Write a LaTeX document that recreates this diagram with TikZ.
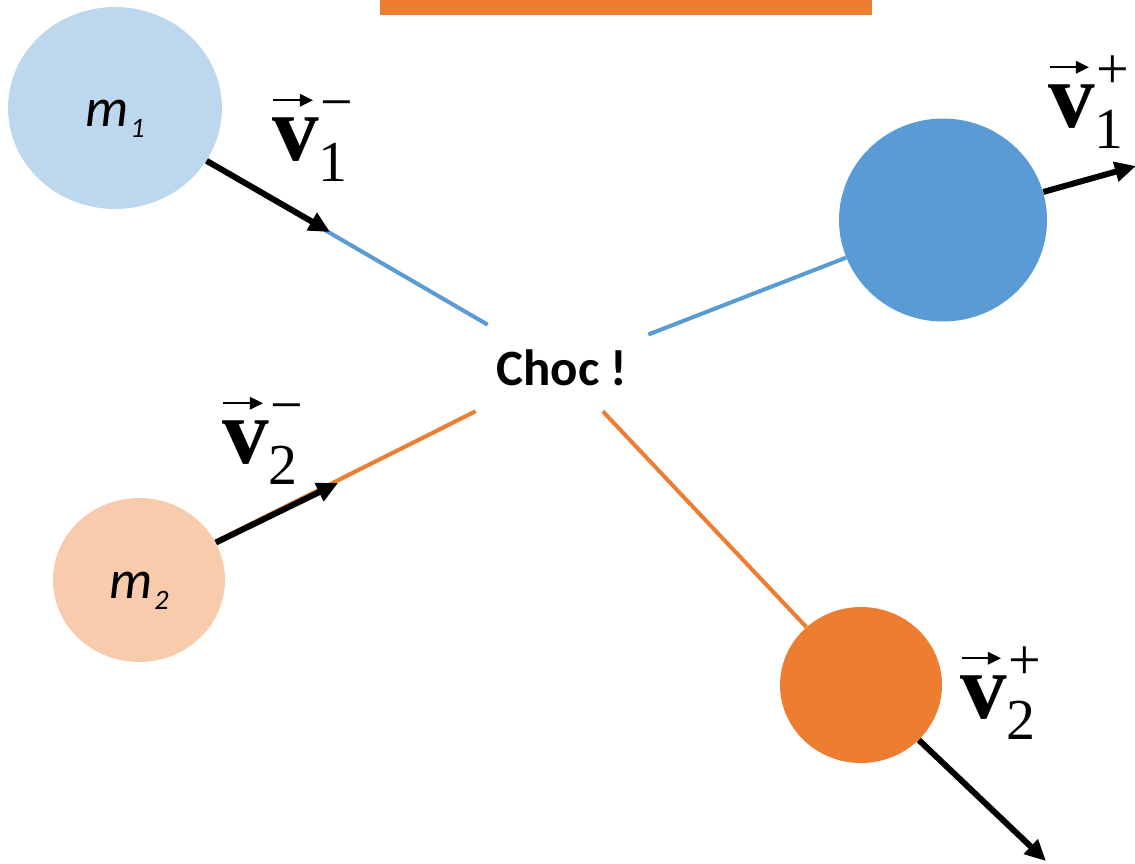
\documentclass[tikz,border=0pt]{standalone}
\usepackage{fontspec}
\setmainfont{Liberation Serif}
\newfontfamily\calibri[Numbers=Lining]{Carlito}
\usetikzlibrary{arrows.meta, positioning, shapes.geometric}
\definecolor{paleblue}{HTML}{BDD7EE}
\definecolor{ballblue}{HTML}{5B9BD5}
\definecolor{paleorange}{HTML}{F8CBAD}
\definecolor{ballorange}{HTML}{ED7D31}
% vector label: bold v with arrow, subscript and superscript
\newcommand{\vlab}[2]{%
  \rlap{\raisebox{34pt}{\tikz[baseline=0pt]\draw[line width=1.3pt,
    -{Triangle[length=7.5pt, width=7pt]}] (0.5pt,0pt) -- (23pt,0pt);}}%
  {\fontsize{53}{53}\selectfont\bfseries v}%
  \rlap{\raisebox{-12.5pt}{\fontsize{33}{33}\selectfont #1}}%
  \kern1pt\raisebox{21.8pt}{\fontsize{33}{33}\selectfont #2}}
% mass label inside a ball
\newcommand{\mlab}[1]{\raisebox{-10.6pt}[0pt][0pt]{\calibri\itshape
  \fontsize{31}{31}\selectfont m\kern1pt\raisebox{-6.2pt}{\fontsize{16}{16}\selectfont #1}}}
\tikzset{
  ball/.style={ellipse, fill=#1, draw=none, inner sep=0pt},
  track/.style={draw=#1, line width=2.3pt},
  vec/.style={draw=black, line width=3.4pt, -{Triangle[length=12pt, width=11pt]}},
  vlbl/.style={anchor=base west, inner sep=0pt, text=black},
  bang/.style={font=\calibri\bfseries\fontsize{29}{29}\selectfont, text=black,
               minimum width=3.44cm, minimum height=1.72cm, inner sep=0pt},
}
\begin{document}
\begin{tikzpicture}[x=0.02cm, y=-0.02cm]
  \useasboundingbox (0,0) rectangle (1135,863);

  \fill[ballorange] (380,0) rectangle (872,15);

  % balls before and after the collision
  \node[ball=paleblue, minimum width=4.28cm, minimum height=4.04cm] (m1) at (115,108) {\mlab{1}};
  \node[ball=paleorange, minimum width=3.44cm, minimum height=3.28cm] (m2) at (139,580) {\mlab{2}};
  \node[ball=ballblue, minimum width=4.16cm, minimum height=4.06cm] (b1) at (943,220) {};
  \node[ball=ballorange, minimum width=3.24cm, minimum height=3.12cm] (b2) at (861,685) {};

  \node[bang] (choc) at (562,368) {Choc !};

  % tracks
  \draw[track=ballblue]   (m1) -- (choc);
  \draw[track=ballorange] (m2) -- (choc);
  \draw[track=ballblue]   (choc) -- (b1);
  \draw[track=ballorange] (choc) -- (b2);

  % velocities
  \coordinate (t1) at (330,232);
  \coordinate (t2) at (338,483);
  \coordinate (t3) at (1136,166);
  \coordinate (t4) at (1046,861);
  \draw[vec] (m1) -- (t1);
  \draw[vec] (m2) -- (t2);
  \draw[vec] (b1) -- (t3);
  \draw[vec] (b2) -- (t4);

  \node[vlbl] (v1m) at (272,160) {\vlab{1}{−}};
  \node[vlbl] (v2m) at (222,463) {\vlab{2}{−}};
  \node[vlbl] (v1p) at (1048,127) {\vlab{1}{+}};
  \node[vlbl] (v2p) at (960,718) {\vlab{2}{+}};
\end{tikzpicture}
\end{document}
